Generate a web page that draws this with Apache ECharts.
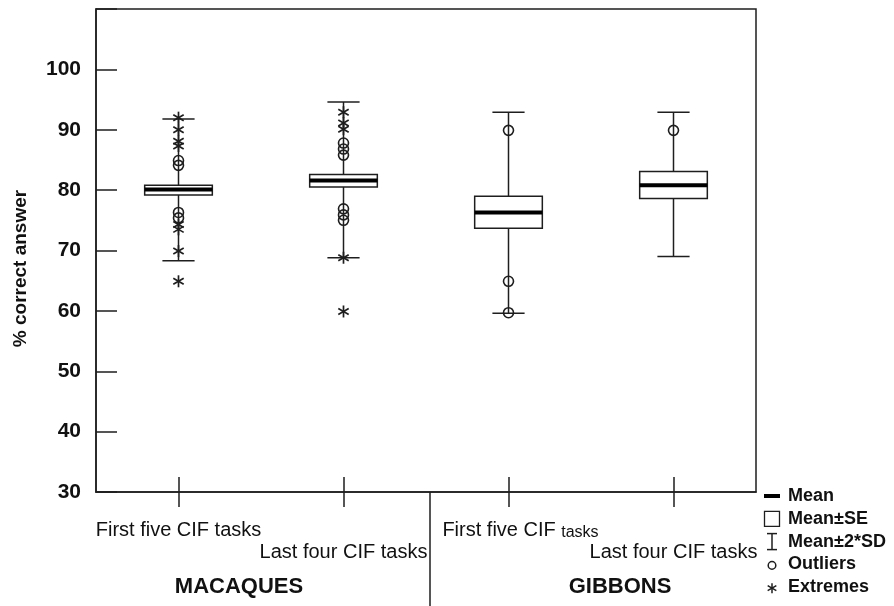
<!DOCTYPE html>
<html>
<head>
<meta charset="utf-8">
<script src="https://cdn.jsdelivr.net/npm/echarts@6/dist/echarts.min.js"></script>
<style>
  html, body { margin: 0; padding: 0; background: #fff; }
  #chart { width: 894px; height: 606px; }
</style>
</head>
<body>
<div id="chart"></div>
<script>
// categories (two per species group)
const categories = ['First five CIF tasks', 'Last four CIF tasks', 'First five CIF tasks', 'Last four CIF tasks'];
const groups = ['MACAQUES', 'GIBBONS'];

// mean, mean±SE, mean±2*SD
const means  = [80.1, 81.6, 76.3, 80.8];
const seLow  = [79.2, 80.5, 73.7, 78.6];
const seHigh = [80.8, 82.6, 79.0, 83.1];
const sdLow  = [68.3, 68.8, 59.6, 69.0];
const sdHigh = [91.8, 94.6, 92.9, 92.9];

// [category index, value]
const outliers = [
  [0, 84.9], [0, 84.1], [0, 76.3], [0, 75.4],
  [1, 87.8], [1, 86.8], [1, 85.8], [1, 76.9], [1, 75.9], [1, 75.0],
  [2, 89.9], [2, 64.9], [2, 59.7],
  [3, 89.9]
];
const extremes = [
  [0, 92.0], [0, 90.0], [0, 88.1], [0, 87.3], [0, 74.3], [0, 73.5], [0, 69.9], [0, 64.9],
  [1, 92.9], [1, 91.1], [1, 90.1], [1, 68.8], [1, 59.9]
];

const yTicks = [30, 40, 50, 60, 70, 80, 90, 100];

const INK = '#1e1e1e';
const FONT = '"Liberation Sans", Arial, sans-serif';

const chart = echarts.init(document.getElementById('chart'));

const boxData = categories.map((c, i) => [i, means[i], seLow[i], seHigh[i], sdLow[i], sdHigh[i]]);

// six-armed asterisk
function asterisk(cx, cy, r, w) {
  const lines = [];
  for (let k = 0; k < 3; k++) {
    const a = Math.PI / 2 + k * Math.PI / 3;
    const dx = Math.cos(a) * r, dy = Math.sin(a) * r;
    lines.push({
      type: 'line',
      shape: { x1: cx - dx, y1: cy - dy, x2: cx + dx, y2: cy + dy },
      style: { stroke: INK, lineWidth: w || 1.7 }
    });
  }
  return lines;
}

function renderBox(params, api) {
  const i = api.value(0);
  const band = api.size([1, 0])[0];
  const boxW = band * 0.41;
  const capW = band * 0.195;
  const m = api.coord([i, api.value(1)]);
  const lo = api.coord([i, api.value(2)]);
  const hi = api.coord([i, api.value(3)]);
  const sdLo = api.coord([i, api.value(4)]);
  const sdHi = api.coord([i, api.value(5)]);
  const x = m[0];
  const line = { stroke: INK, lineWidth: 1.5 };
  return {
    type: 'group',
    children: [
      { type: 'line', shape: { x1: x, y1: sdHi[1], x2: x, y2: sdLo[1] }, style: line },
      { type: 'line', shape: { x1: x - capW / 2, y1: sdHi[1], x2: x + capW / 2, y2: sdHi[1] }, style: line },
      { type: 'line', shape: { x1: x - capW / 2, y1: sdLo[1], x2: x + capW / 2, y2: sdLo[1] }, style: line },
      { type: 'rect', shape: { x: x - boxW / 2, y: hi[1], width: boxW, height: lo[1] - hi[1] },
        style: { fill: '#fff', stroke: INK, lineWidth: 1.5 } },
      { type: 'line', shape: { x1: x - boxW / 2, y1: m[1], x2: x + boxW / 2, y2: m[1] },
        style: { stroke: '#000', lineWidth: 4 } }
    ]
  };
}

function renderCircle(params, api) {
  const p = api.coord([api.value(0), api.value(1)]);
  return { type: 'circle', shape: { cx: p[0], cy: p[1], r: 5 }, style: { fill: null, stroke: INK, lineWidth: 1.6 } };
}

function renderStar(params, api) {
  const p = api.coord([api.value(0), api.value(1)]);
  return { type: 'group', children: asterisk(p[0], p[1], 6) };
}

// legend (drawn by hand, like the figure)
const legendItems = ['Mean', 'Mean±SE', 'Mean±2*SD', 'Outliers', 'Extremes'];
function legendGraphic() {
  const x0 = 772, xt = 788, y0 = 496, dy = 22.8;
  const els = [];
  const ln = { stroke: INK, lineWidth: 1.5 };
  legendItems.forEach((t, k) => {
    els.push({ type: 'text', x: xt, y: y0 + k * dy,
      style: { text: t, font: 'bold 18px ' + FONT, fill: '#111', verticalAlign: 'middle' } });
  });
  els.push({ type: 'line', shape: { x1: x0 - 8, y1: y0, x2: x0 + 8, y2: y0 }, style: { stroke: '#000', lineWidth: 4 } });
  els.push({ type: 'rect', shape: { x: x0 - 7.5, y: y0 + dy - 7.5, width: 15, height: 15 }, style: { fill: null, stroke: INK, lineWidth: 1.3 } });
  const sy = y0 + 2 * dy;
  els.push({ type: 'line', shape: { x1: x0, y1: sy - 8, x2: x0, y2: sy + 8 }, style: ln });
  els.push({ type: 'line', shape: { x1: x0 - 5, y1: sy - 8, x2: x0 + 5, y2: sy - 8 }, style: ln });
  els.push({ type: 'line', shape: { x1: x0 - 5, y1: sy + 8, x2: x0 + 5, y2: sy + 8 }, style: ln });
  els.push({ type: 'circle', shape: { cx: x0, cy: y0 + 3 * dy + 1, r: 3.8 }, style: { fill: null, stroke: INK, lineWidth: 1.5 } });
  asterisk(x0, y0 + 4 * dy + 1, 5, 1.5).forEach(e => els.push(e));
  return els;
}

const tickStyle = { color: INK, width: 1.5 };

const option = {
  animation: false,
  backgroundColor: '#fff',
  textStyle: { fontFamily: FONT },
  grid: { left: 96, right: 138, top: 9, bottom: 114, show: true, borderColor: INK, borderWidth: 1.5 },
  xAxis: [
    {
      type: 'category',
      data: categories,
      boundaryGap: true,
      axisLine: { show: true, lineStyle: tickStyle },
      axisTick: { show: true, interval: 0, alignWithLabel: true, length: 15, lineStyle: tickStyle },
      axisLabel: {
        interval: 0,
        margin: 27,
        color: '#111',
        formatter: (v, i) => {
          if (i === 2) return '{c|First five CIF }{s|tasks}';
          return i % 2 === 0 ? '{a|' + v + '}' : '{b|' + v + '}';
        },
        rich: {
          a: { fontSize: 20, lineHeight: 22, color: '#111', fontFamily: FONT },
          b: { fontSize: 20, lineHeight: 22, color: '#111', fontFamily: FONT, padding: [44, 0, 0, 0] },
          c: { fontSize: 20, lineHeight: 22, color: '#111', fontFamily: FONT, padding: [0, 0, 0, 24] },
          s: { fontSize: 16, lineHeight: 22, color: '#111', fontFamily: FONT, padding: [6, 0, 0, 0] }
        }
      }
    },
    {
      type: 'category',
      data: categories,
      position: 'bottom',
      axisLine: { show: false },
      axisTick: { show: true, interval: 0, alignWithLabel: true, inside: true, length: 15, lineStyle: tickStyle },
      axisLabel: { show: false }
    }
  ],
  yAxis: {
    type: 'value',
    min: 30,
    max: 110,
    interval: 10,
    axisLine: { show: true, lineStyle: tickStyle },
    axisTick: { show: true, inside: true, length: 21, lineStyle: tickStyle },
    splitLine: { show: false },
    axisLabel: {
      margin: 15,
      fontSize: 21,
      fontWeight: 'bold',
      color: '#111',
      formatter: v => (yTicks.indexOf(v) >= 0 ? String(v) : '')
    },
    name: '% correct answer',
    nameLocation: 'middle',
    nameGap: 66,
    nameTextStyle: { fontSize: 19, fontWeight: 'bold', color: '#111', padding: [0, 36, 0, 0] }
  },
  series: [
    { type: 'custom', name: 'Mean', renderItem: renderBox, data: boxData, z: 2 },
    { type: 'custom', name: 'Outliers', renderItem: renderCircle, data: outliers, z: 3 },
    { type: 'custom', name: 'Extremes', renderItem: renderStar, data: extremes, z: 3 }
  ]
};

chart.setOption(option);

// divider between the two groups and group names, placed from the axis
const c1 = chart.convertToPixel({ xAxisIndex: 0 }, 1);
const c2 = chart.convertToPixel({ xAxisIndex: 0 }, 2);
const axisY = chart.convertToPixel({ yAxisIndex: 0 }, 30);
const divX = (c1 + c2) / 2 + 4;

chart.setOption({
  graphic: [
    { type: 'line', shape: { x1: divX, y1: axisY, x2: divX, y2: 606 }, style: { stroke: INK, lineWidth: 1.5 } },
    { type: 'text', x: 239, y: 587, style: { text: groups[0], font: 'bold 22px ' + FONT, fill: '#111', align: 'center', verticalAlign: 'middle' } },
    { type: 'text', x: 620, y: 587, style: { text: groups[1], font: 'bold 22px ' + FONT, fill: '#111', align: 'center', verticalAlign: 'middle' } }
  ].concat(legendGraphic())
});

window.addEventListener('resize', () => chart.resize());
</script>
</body>
</html>
